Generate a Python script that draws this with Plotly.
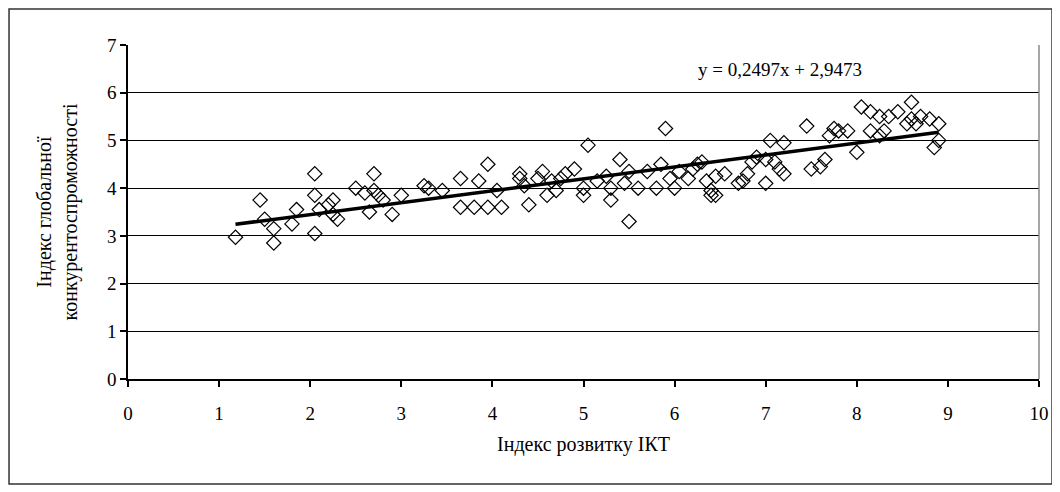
import numpy as np
import plotly.graph_objects as go

# Індекс розвитку ІКТ (x) та Індекс глобальної конкурентоспроможності (y)
ict_index = [1.18, 1.45, 1.5, 1.6, 1.6, 1.85, 1.8, 2.05, 2.05, 2.05, 2.1, 2.2, 2.25, 2.25, 2.3,
             2.5, 2.6, 2.65, 2.7, 2.7, 2.75, 2.8, 2.9, 3.0, 3.25, 3.3, 3.45, 3.65, 3.65, 3.8,
             3.85, 3.95, 3.95, 4.05, 4.1, 4.3, 4.3, 4.35, 4.4, 4.5, 4.55, 4.65, 4.7, 4.6, 4.75,
             4.8, 4.9, 5.0, 5.0, 5.05, 5.15, 5.25, 5.3, 5.3, 5.4, 5.45, 5.5, 5.5, 5.6, 5.7,
             5.8, 5.85, 5.9, 5.95, 6.0, 6.05, 6.15, 6.2, 6.25, 6.3, 6.35, 6.4, 6.4, 6.45, 6.45,
             6.55, 6.7, 6.75, 6.8, 6.85, 6.9, 7.0, 7.0, 7.05, 7.1, 7.15, 7.2, 7.2, 7.45, 7.5,
             7.6, 7.65, 7.7, 7.75, 7.8, 7.9, 8.0, 8.05, 8.15, 8.15, 8.25, 8.25, 8.3, 8.35, 8.45,
             8.55, 8.6, 8.6, 8.65, 8.7, 8.8, 8.9, 8.85, 8.9]
gci_index = [2.97, 3.75, 3.35, 3.15, 2.85, 3.55, 3.25, 4.3, 3.85, 3.05, 3.55, 3.65, 3.75, 3.45, 3.35,
             4.0, 3.9, 3.5, 4.3, 3.95, 3.85, 3.75, 3.45, 3.85, 4.05, 4.0, 3.95, 4.2, 3.6, 3.6,
             4.15, 3.6, 4.5, 3.95, 3.6, 4.2, 4.3, 4.05, 3.65, 4.2, 4.35, 4.15, 3.95, 3.85, 4.2,
             4.3, 4.4, 4.0, 3.85, 4.9, 4.15, 4.25, 4.0, 3.75, 4.6, 4.1, 4.35, 3.3, 4.0, 4.35,
             4.0, 4.5, 5.25, 4.2, 4.0, 4.35, 4.2, 4.4, 4.5, 4.55, 4.15, 3.85, 3.95, 4.25, 3.85,
             4.3, 4.1, 4.15, 4.3, 4.55, 4.65, 4.1, 4.6, 5.0, 4.55, 4.4, 4.95, 4.3, 5.3, 4.4,
             4.45, 4.6, 5.1, 5.25, 5.2, 5.2, 4.75, 5.7, 5.2, 5.6, 5.5, 5.1, 5.2, 5.5, 5.6,
             5.35, 5.8, 5.45, 5.35, 5.5, 5.45, 5.35, 4.85, 5.0]

# лінійний тренд
slope = 0.2497
intercept = 2.9473
trend_x = [min(ict_index), max(ict_index)]
trend_y = [slope * v + intercept for v in trend_x]

serif = "Liberation Serif"

fig = go.Figure()

fig.add_trace(go.Scatter(
    x=ict_index, y=gci_index, mode="markers",
    marker=dict(symbol="diamond-open", size=11, color="black", line=dict(width=1.2)),
    showlegend=False,
))
fig.add_trace(go.Scatter(
    x=trend_x, y=trend_y, mode="lines",
    line=dict(color="black", width=3.5),
    showlegend=False,
))

fig.add_annotation(
    x=7.16, y=6.48, xref="x", yref="y", showarrow=False,
    text="y = 0,2497x + 2,9473", font=dict(family=serif, size=19, color="black"),
)

# рамка навколо всього графіка
fig.add_shape(type="rect", xref="paper", yref="paper",
              x0=-0.1306, x1=1.0143, y0=-0.314, y1=1.108,
              line=dict(color="#333333", width=1.5), layer="below")

fig.update_xaxes(
    range=[0, 10], dtick=1, showgrid=False, zeroline=False,
    showline=True, linecolor="black", linewidth=1.5,
    ticks="outside", ticklen=6, tickcolor="black", tickwidth=1.5,
    ticklabelstandoff=10,
    tickfont=dict(family=serif, size=19, color="black"),
    title=dict(text="Індекс розвитку ІКТ", font=dict(family=serif, size=20, color="black"),
               standoff=14),
)
fig.update_yaxes(
    range=[0, 7], dtick=1, showgrid=True, gridcolor="black", gridwidth=1.2, zeroline=False,
    showline=True, linecolor="black", linewidth=1.5,
    ticks="outside", ticklen=6, tickcolor="black", tickwidth=1.5,
    tickfont=dict(family=serif, size=19, color="black"),
    title=dict(text="Індекс глобальної<br>конкурентоспроможності",
               font=dict(family=serif, size=20, color="black"), standoff=24),
)

# права межа області побудови
fig.add_shape(type="line", xref="paper", yref="paper", x0=1, x1=1, y0=0, y1=1,
              line=dict(color="#888888", width=1.5))

# сторінка має відступ 8px, тож розмір фігури менший
fig.update_layout(
    width=1052, height=484,
    margin=dict(l=120, r=21, t=37, b=113),
    paper_bgcolor="white", plot_bgcolor="white",
    font=dict(family=serif, color="black"),
)

fig.write_html("out.html")
